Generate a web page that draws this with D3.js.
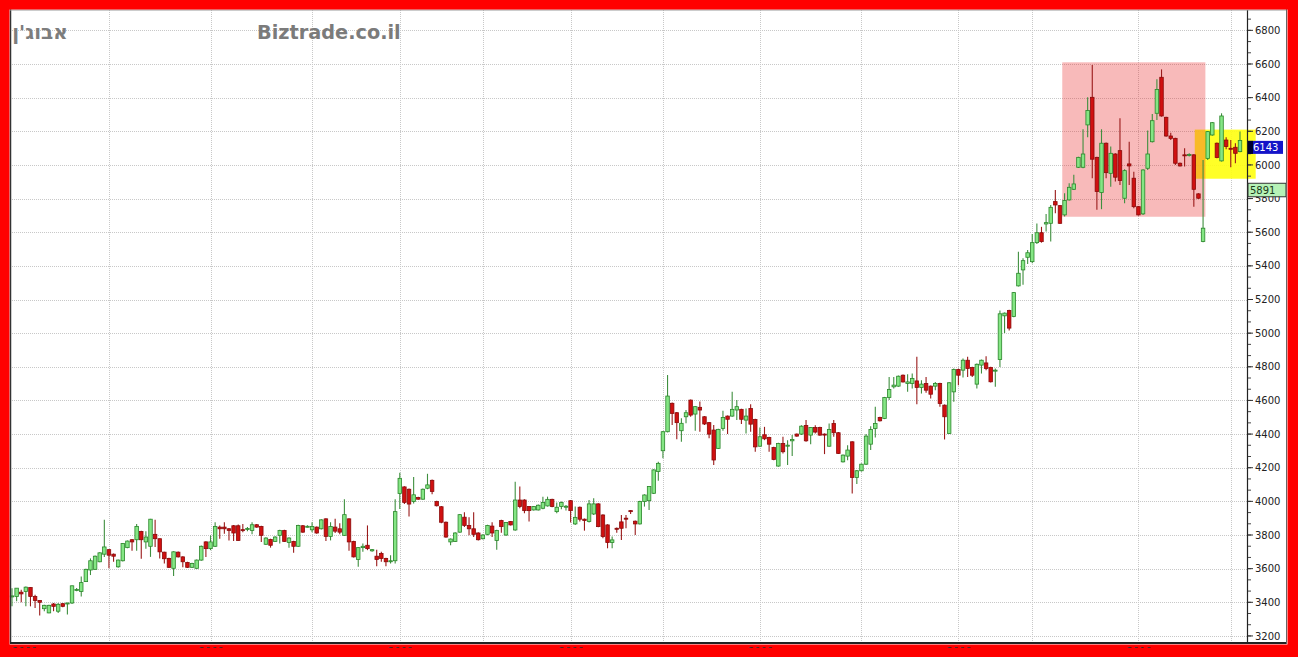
<!DOCTYPE html>
<html><head><meta charset="utf-8">
<script src="https://cdn.jsdelivr.net/npm/d3@7"></script>
<style>body{margin:0;background:#fff}svg{display:block}</style>
</head><body>
<svg id="c" width="1298" height="657"></svg>
<script>
// ---- data (daily candles) ----
const openV=[3432,3435,3460,3464,3488,3435,3411,3362,3337,3390,3347,3392,3390,3396,3472,3464,3523,3592,3596,3641,
3686,3713,3686,3611,3647,3725,3772,3772,3821,3759,3733,3804,3778,3698,3661,3602,3698,3670,3637,3608,
3602,3651,3759,3719,3733,3847,3847,3837,3855,3855,3832,3836,3827,3861,3851,3745,3774,3762,3798,3827,
3755,3762,3733,3855,3850,3831,3847,3837,3896,3792,3847,3837,3798,3896,3762,3655,3725,3739,3706,3674,
3690,3661,3641,3647,4047,4086,4072,3999,4023,4013,4078,4125,3999,3968,3876,3759,3762,3817,3906,3857,
3837,3812,3778,3804,3853,3768,3886,3800,3880,3830,4008,4008,3969,3949,3949,3959,3973,4012,3939,3969,
3969,4004,3866,3965,3894,3880,3925,3985,3919,3860,3755,3840,3878,3900,3945,3882,3866,3999,4004,4048,
4177,4301,4414,4583,4527,4420,4503,4602,4519,4559,4503,4468,4424,4315,4434,4507,4507,4543,4547,4483,
4552,4487,4328,4396,4380,4320,4210,4344,4328,4360,4400,4400,4451,4394,4439,4439,4400,4328,4463,4408,
4235,4269,4354,4142,4182,4221,4340,4433,4499,4493,4617,4681,4685,4750,4701,4701,4716,4677,4701,4685,
4685,4701,4572,4404,4651,4784,4780,4839,4796,4697,4810,4823,4796,4776,4843,5103,5135,5099,5281,5376,
5451,5425,5538,5597,5649,5653,5782,5758,5703,5792,5855,5986,5986,6238,6402,6045,5836,6129,5950,6065,
6085,5802,6006,5921,5752,5709,5980,6138,6307,6521,6283,6172,6158,6010,6060,6060,6060,5828,5545,6039,
6178,6129,6024,6148,6099,6105,6079];
const highV=[3484,3484,3474,3494,3490,3445,3411,3385,3385,3396,3396,3395,3398,3500,3485,3553,3600,3661,3678,3698,
3890,3716,3690,3655,3753,3768,3776,3866,3825,3823,3896,3890,3780,3700,3665,3704,3702,3674,3641,3635,
3655,3737,3763,3798,3876,3857,3876,3841,3859,3862,3866,3847,3876,3865,3855,3786,3778,3792,3831,3831,
3786,3766,3861,3859,3858,3876,3851,3894,3900,3876,3896,3870,4013,3900,3766,3729,3749,3857,3717,3713,
3700,3665,3680,4013,4170,4090,4076,4145,4027,4076,4164,4130,4003,3972,3880,3780,3816,3925,3935,3906,
3935,3816,3804,3861,3876,3831,3890,3878,3884,4117,4088,4012,3973,3973,3981,4028,4028,4016,3993,3999,
3979,4008,3969,3969,3898,4008,4018,3989,3923,3864,3791,3844,3919,3919,3949,3886,4003,4042,4092,4191,
4236,4418,4751,4587,4531,4494,4543,4606,4567,4593,4507,4472,4454,4432,4539,4511,4652,4602,4551,4552,
4578,4491,4439,4443,4384,4324,4348,4384,4364,4394,4404,4453,4483,4441,4453,4443,4404,4463,4483,4412,
4279,4334,4358,4186,4225,4400,4447,4562,4503,4621,4740,4740,4748,4754,4756,4760,4859,4720,4740,4689,
4710,4705,4576,4709,4790,4788,4849,4859,4800,4819,4843,4863,4800,4790,5135,5123,5139,5245,5484,5445,
5494,5589,5652,5632,5709,5762,5851,5762,5832,5891,5941,6049,6212,6402,6594,6049,6212,6133,6109,6069,
6277,5974,6138,5960,5756,5974,6204,6303,6509,6568,6287,6192,6162,6014,6099,6070,6064,5832,6030,6202,
6255,6133,6307,6164,6148,6129,6198];
const lowV=[3376,3406,3400,3376,3376,3366,3321,3347,3335,3347,3337,3370,3327,3390,3465,3435,3520,3562,3594,3638,
3670,3602,3641,3606,3643,3721,3706,3706,3659,3719,3670,3729,3661,3631,3604,3557,3666,3608,3604,3604,
3600,3647,3670,3710,3729,3778,3808,3768,3764,3766,3817,3823,3804,3843,3759,3741,3725,3758,3749,3758,
3725,3694,3729,3813,3845,3817,3808,3833,3764,3768,3812,3804,3794,3706,3666,3611,3700,3710,3700,3615,
3641,3615,3631,3631,3955,3984,3910,3988,4010,4010,4072,4043,3970,3870,3784,3739,3758,3813,3847,3798,
3788,3768,3774,3798,3788,3713,3814,3796,3856,3826,3959,3929,3880,3945,3945,3953,3969,3965,3929,3953,
3945,3874,3860,3880,3826,3874,3919,3846,3781,3721,3721,3814,3771,3840,3925,3800,3862,3969,3949,4044,
4123,4256,4410,4454,4369,4355,4464,4503,4420,4414,4454,4375,4216,4311,4420,4400,4503,4484,4460,4404,
4414,4295,4324,4364,4295,4245,4206,4285,4216,4269,4384,4394,4354,4340,4404,4390,4281,4324,4384,4281,
4231,4245,4047,4103,4178,4216,4305,4380,4475,4489,4602,4671,4681,4706,4651,4671,4578,4641,4645,4612,
4661,4562,4368,4400,4592,4691,4736,4740,4740,4671,4760,4780,4707,4681,4799,5001,5016,5095,5277,5287,
5411,5415,5530,5538,5604,5545,5713,5649,5693,5788,5851,5982,5980,6164,5921,5733,5737,5921,5871,5901,
5881,5772,5881,5742,5699,5703,5970,6133,6267,6287,6168,6148,6000,5990,5990,6050,5752,5798,5541,6030,
6174,6040,6020,6093,5986,6010,6075];
const closeV=[3438,3484,3450,3490,3435,3411,3400,3382,3382,3376,3388,3376,3396,3498,3476,3517,3596,3647,3674,3694,
3729,3680,3674,3651,3749,3764,3759,3851,3772,3788,3894,3778,3700,3659,3608,3700,3670,3641,3608,3631,
3651,3733,3719,3759,3851,3837,3837,3827,3812,3768,3828,3839,3861,3847,3798,3782,3739,3788,3827,3762,
3782,3733,3857,3817,3852,3851,3812,3890,3792,3851,3823,3817,3921,3759,3670,3725,3733,3719,3713,3655,
3661,3641,3647,3939,4137,3994,3984,4039,4013,4072,4098,4059,3974,3876,3788,3776,3812,3921,3857,3837,
3804,3772,3800,3857,3812,3827,3850,3874,3860,4008,3969,3945,3945,3969,3977,3993,4012,3969,3965,3993,
3971,3945,3905,3894,3886,3985,3985,3850,3791,3755,3771,3834,3840,3894,3939,3866,3999,4038,4088,4187,
4226,4414,4626,4523,4468,4464,4527,4513,4563,4543,4460,4400,4246,4428,4499,4488,4547,4563,4488,4507,
4459,4324,4384,4372,4340,4249,4344,4295,4334,4368,4388,4447,4360,4439,4412,4394,4398,4427,4408,4285,
4275,4305,4142,4182,4221,4388,4427,4463,4479,4617,4665,4691,4744,4710,4710,4730,4677,4697,4661,4637,
4701,4582,4503,4705,4784,4750,4839,4790,4750,4815,4839,4790,4711,4780,5115,5119,5030,5241,5356,5431,
5478,5538,5597,5544,5657,5748,5762,5653,5788,5867,5887,6045,6065,6323,6034,5842,6129,5954,6069,5927,
5907,5966,5994,5752,5703,5970,6065,6263,6449,6291,6172,6158,6010,5994,6058,6062,5855,5802,5624,6198,
6251,6044,6291,6109,6093,6069,6145];
const dayIndex = d3.range(openV.length);               // categories: trading days
const monthStartIdx = [21,43,65,84,102,121,141,162,184,205,221,244,264]; // vertical grid
const xTickIdx = [0,43,84,121,162,205,244];
const xTickLabels = ["2009","2009","2009","2009","2009","2009","2010"];
const yTickValues = d3.range(3200, 6801, 200);
const yMinorValues = d3.range(3200, 6900, 200/3);
const pinkZone = {i0:227.5, i1:258.5, v0:5692, v1:6610};
const yellowZone = {i0:256.2, i1:269.4, v0:5918, v1:6210};
const lastPrice = 6143, refPrice = 5891;

// ---- drawing ----
const svg = d3.select("#c");
const W=1298, H=657;
const plot = {l:10, r:1247.5, t:10, b:642.5};
const x = d3.scaleLinear().domain([0, 266]).range([12, 1240]);
const y = d3.scaleLinear().domain([3164, 6921]).range([642, 10]);

svg.append("rect").attr("width",W).attr("height",H).attr("fill","#fff");

// grid
const g = svg.append("g");
g.selectAll(".hg").data(yTickValues).enter().append("line")
  .attr("x1",plot.l).attr("x2",plot.r)
  .attr("y1",d=>Math.round(y(d))+0.5).attr("y2",d=>Math.round(y(d))+0.5)
  .attr("stroke","#c8c8c8").attr("stroke-dasharray","1,1");
g.selectAll(".vg").data(monthStartIdx).enter().append("line")
  .attr("x1",d=>Math.round(x(d))+0.5).attr("x2",d=>Math.round(x(d))+0.5)
  .attr("y1",plot.t).attr("y2",plot.b)
  .attr("stroke","#c8c8c8").attr("stroke-dasharray","1,1");

// zones
svg.append("rect")
  .attr("x",x(yellowZone.i0)).attr("width",x(yellowZone.i1)-x(yellowZone.i0))
  .attr("y",y(yellowZone.v1)).attr("height",y(yellowZone.v0)-y(yellowZone.v1))
  .attr("fill","#ffff10").attr("opacity",0.9);
svg.append("rect")
  .attr("x",x(pinkZone.i0)).attr("width",x(pinkZone.i1)-x(pinkZone.i0))
  .attr("y",y(pinkZone.v1)).attr("height",y(pinkZone.v0)-y(pinkZone.v1))
  .attr("fill","rgb(232,40,40)").attr("opacity",0.32);

// candles
const cg = svg.append("g");
const bw = 3.5;
dayIndex.forEach(i=>{
  const o=openV[i], c=closeV[i], h=highV[i], l=lowV[i];
  const up = c>=o;
  const cx = x(i);
  cg.append("line").attr("x1",cx).attr("x2",cx).attr("y1",y(h)).attr("y2",y(l))
    .attr("stroke", up?"#3f8f3f":"#9a1a1a").attr("stroke-width",1.1);
  const top=y(Math.max(o,c)), bot=y(Math.min(o,c));
  cg.append("rect").attr("x",cx-bw/2).attr("width",bw)
    .attr("y",top).attr("height",Math.max(1,bot-top))
    .attr("fill", up?"#84e684":"#d01010")
    .attr("stroke", up?"#2a852a":"#8a0a0a").attr("stroke-width",0.8);
});

// right axis
const ax = svg.append("g");
ax.append("line").attr("x1",1247.5).attr("x2",1247.5).attr("y1",plot.t).attr("y2",644)
  .attr("stroke","#222").attr("stroke-width",1.2);
ax.selectAll(".mt").data(yMinorValues.filter(v=>y(v)>plot.t&&y(v)<plot.b)).enter().append("line")
  .attr("x1",1248).attr("x2",1251).attr("y1",d=>y(d)).attr("y2",d=>y(d)).attr("stroke","#444");
ax.selectAll(".tk").data(yTickValues).enter().append("line")
  .attr("x1",1248).attr("x2",1253).attr("y1",d=>y(d)).attr("y2",d=>y(d)).attr("stroke","#333");
ax.selectAll(".tl").data(yTickValues).enter().append("text")
  .attr("x",1255).attr("y",d=>y(d)).attr("dy","0.36em")
  .attr("font-family","DejaVu Sans, sans-serif").attr("font-size",10).attr("fill","#222")
  .text(d=>d);

// price labels (box hangs below its value)
const lp = svg.append("g");
lp.append("rect").attr("x",1248).attr("y",y(lastPrice)).attr("width",35).attr("height",13).attr("fill","#1414c8");
lp.append("rect").attr("x",1248).attr("y",y(lastPrice)).attr("width",5).attr("height",13).attr("fill","#000030");
lp.append("text").attr("x",1253).attr("y",y(lastPrice)+6.5).attr("dy","0.36em")
  .attr("font-family","DejaVu Sans, sans-serif").attr("font-size",10).attr("fill","#fff").text(lastPrice);
lp.append("rect").attr("x",1248).attr("y",y(refPrice)).attr("width",38).attr("height",13.5)
  .attr("fill","#b6f2b6").attr("stroke","#333").attr("stroke-width",1);
lp.append("text").attr("x",1250).attr("y",y(refPrice)+7.5).attr("dy","0.36em")
  .attr("font-family","DejaVu Sans, sans-serif").attr("font-size",10).attr("fill","#1a3a1a").text(refPrice);

// frame lines
svg.append("line").attr("x1",10.5).attr("x2",10.5).attr("y1",9).attr("y2",644).attr("stroke","#333").attr("stroke-width",1.5);
svg.append("line").attr("x1",10).attr("x2",1287).attr("y1",10).attr("y2",10).attr("stroke","#999");
svg.append("line").attr("x1",10).attr("x2",1287).attr("y1",643).attr("y2",643).attr("stroke","#222").attr("stroke-width",2);
svg.append("line").attr("x1",1286.5).attr("x2",1286.5).attr("y1",9).attr("y2",644).attr("stroke","#666");

// watermark texts
svg.append("text").attr("x",40).attr("y",39).attr("text-anchor","middle")
  .attr("font-family","DejaVu Sans, sans-serif").attr("font-weight","bold").attr("font-size",20)
  .attr("fill","#7d7d7d").text("אבוג'ן");
svg.append("text").attr("x",257).attr("y",39)
  .attr("font-family","DejaVu Sans, sans-serif").attr("font-weight","bold").attr("font-size",19.3)
  .attr("fill","#7b7b7b").text("Biztrade.co.il");

// red border
const red="#ff0000";
svg.append("rect").attr("x",0).attr("y",0).attr("width",W).attr("height",9.5).attr("fill",red);
svg.append("rect").attr("x",0).attr("y",0).attr("width",9.5).attr("height",H).attr("fill",red);
svg.append("rect").attr("x",1287.5).attr("y",0).attr("width",W-1287.5).attr("height",H).attr("fill",red);
svg.append("rect").attr("x",0).attr("y",644.5).attr("width",W).attr("height",H-644.5).attr("fill",red);

// x labels, mostly hidden under the frame
svg.append("clipPath").attr("id","xc").append("rect").attr("x",0).attr("y",640).attr("width",W).attr("height",8);
svg.append("g").attr("clip-path","url(#xc)").selectAll("text").data(xTickIdx).enter().append("text")
  .attr("x",d=>x(d)+ (d===0?0:-12)).attr("y",655)
  .attr("font-family","DejaVu Sans, sans-serif").attr("font-size",10).attr("fill","#333")
  .text((d,i)=>xTickLabels[i]);
</script>
</body></html>
